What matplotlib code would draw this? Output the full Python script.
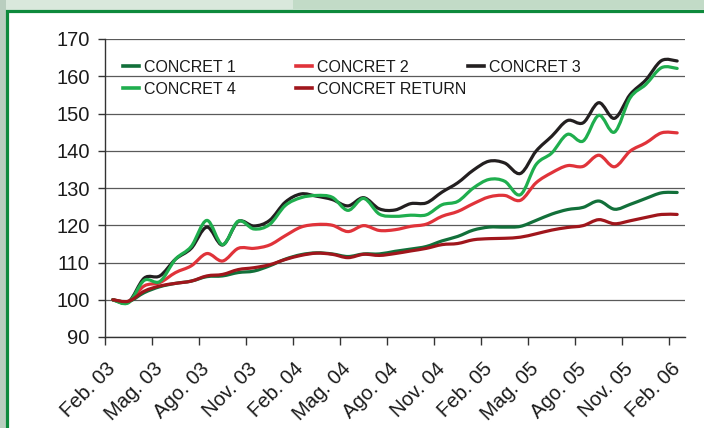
import numpy as np
import matplotlib
matplotlib.use('Agg')
import matplotlib.pyplot as plt
from matplotlib.path import Path
from matplotlib.patches import PathPatch, Rectangle
from matplotlib.lines import Line2D

# monthly index, Feb 03 .. Feb 06
months = list(range(37))
tick_labels = ['Feb. 03', 'Mag. 03', 'Ago. 03', 'Nov. 03', 'Feb. 04', 'Mag. 04', 'Ago. 04',
               'Nov. 04', 'Feb. 05', 'Mag. 05', 'Ago. 05', 'Nov. 05', 'Feb. 06']

concret_1 = [100, 99.5, 101.9, 103.5, 104.4, 105.0, 106.2, 106.4, 107.3, 107.7, 109.1, 110.9, 112.1,
             112.6, 112.3, 111.6, 112.3, 112.3, 113.0, 113.6, 114.3, 115.8, 117.0, 118.7, 119.5,
             119.5, 119.7, 121.3, 123.0, 124.2, 124.8, 126.5, 124.3, 125.6, 127.2, 128.7, 128.8]
concret_2 = [100, 99.6, 103.7, 104.6, 107.3, 109.1, 112.4, 110.4, 113.8, 113.8, 114.7, 117.2, 119.5,
             120.2, 120.0, 118.3, 119.9, 118.6, 118.8, 119.7, 120.3, 122.4, 123.7, 125.8, 127.6,
             128.0, 126.7, 131.4, 134.1, 136.0, 135.8, 138.8, 135.7, 139.9, 142.1, 144.8, 144.8]
concret_3 = [100, 99.4, 105.8, 106.4, 110.9, 113.8, 119.5, 114.7, 121.0, 119.8, 121.3, 126.2, 128.4,
             127.8, 126.9, 125.2, 127.4, 124.4, 124.1, 125.8, 126.0, 128.9, 131.4, 134.8, 137.2,
             136.7, 133.9, 139.9, 143.9, 148.1, 147.5, 152.9, 148.7, 155.1, 159.0, 164.2, 164.1]
concret_4 = [100, 99.2, 105.2, 104.9, 110.9, 114.3, 121.3, 114.8, 121.1, 119.0, 120.2, 125.3, 127.4,
             128.0, 127.5, 124.0, 127.2, 123.0, 122.4, 122.7, 122.8, 125.5, 126.4, 130.0, 132.3,
             131.8, 128.2, 136.3, 139.4, 144.4, 142.6, 149.5, 145.0, 154.2, 157.8, 162.3, 162.1]
concret_return = [100, 99.6, 102.3, 103.7, 104.4, 105.0, 106.4, 106.8, 108.1, 108.6, 109.4, 110.8, 111.9,
                  112.5, 112.2, 111.3, 112.2, 111.9, 112.4, 113.1, 113.8, 114.8, 115.1, 116.1, 116.4,
                  116.5, 116.8, 117.7, 118.7, 119.4, 119.9, 121.5, 120.4, 121.2, 122.1, 122.9, 122.9]

series_names = ['CONCRET 1', 'CONCRET 2', 'CONCRET 3', 'CONCRET 4', 'CONCRET RETURN']
series_values = [concret_1, concret_2, concret_3, concret_4, concret_return]
colors = ['#12703a', '#e0333a', '#231f20', '#1fae4e', '#a0161c']


def smooth_path(x, y):
    # excel-like smoothed line: bezier segments through the data points
    pts = np.column_stack([x, y]).astype(float)
    p = np.vstack([pts[0], pts, pts[-1]])
    verts = [pts[0]]
    codes = [Path.MOVETO]
    for k in range(1, len(p) - 2):
        c1 = p[k] + (p[k + 1] - p[k - 1]) / 6
        c2 = p[k + 1] - (p[k + 2] - p[k]) / 6
        verts += [c1, c2, p[k + 1]]
        codes += [Path.CURVE4] * 3
    return Path(verts, codes)


plt.rcParams['font.family'] = ['Liberation Sans', 'DejaVu Sans']

fig = plt.figure(figsize=(7.04, 4.28), dpi=100)
fig.patch.set_facecolor('#d9e8dc')

# background strips and green frame
fig.patches.append(Rectangle((0, 0), 6 / 704, 1, transform=fig.transFigure,
                             facecolor='#b9cebf', edgecolor='none', zorder=-3))
fig.patches.append(Rectangle((293 / 704, 1 - 9 / 428), 1, 9 / 428, transform=fig.transFigure,
                             facecolor='#c2dbc7', edgecolor='none', zorder=-3))
fig.patches.append(Rectangle((7.5 / 704, -0.1), 1.2, 1.1 - 10.5 / 428, transform=fig.transFigure,
                             facecolor='white', edgecolor='#0e8a3c', lw=2.3, zorder=-2))

ax = fig.add_axes([105 / 704, 1 - 337 / 428, 580 / 704, 298 / 428])
ax.set_facecolor('white')

for name, vals, c in zip(series_names, series_values, colors):
    ax.add_patch(PathPatch(smooth_path(months, vals), fill=False, edgecolor=c, lw=2.3,
                           capstyle='round', joinstyle='round', zorder=3))

ax.set_xlim(-0.5, 36.5)
ax.set_ylim(90, 170)
ax.set_yticks(range(90, 171, 10))
ax.set_xticks(np.arange(-0.5, 37, 3))
ax.set_xticks(months[::3], minor=True)
ax.set_xticklabels(tick_labels, minor=True, rotation=45, ha='right', va='center',
                   rotation_mode='anchor')
ax.tick_params(axis='x', which='major', length=6, width=1, color='#333333', labelbottom=False)
ax.tick_params(axis='x', which='minor', length=0, pad=21, labelsize=14.5, labelcolor='#1a1a1a')
ax.tick_params(axis='y', length=5, width=1, color='#333333', pad=6, labelsize=14.5,
               labelcolor='#1a1a1a')

ax.grid(axis='y', color='#5a5a5a', lw=0.9)
ax.set_axisbelow(True)
for s in ['top', 'right']:
    ax.spines[s].set_visible(False)
for s in ['left', 'bottom']:
    ax.spines[s].set_color('#333333')
    ax.spines[s].set_linewidth(1)

handles = [Line2D([], [], color=c, lw=2.6) for c in colors]
cols = [([0, 3], 123), ([1, 4], 296), ([2], 468)]
for n, (idx, xpx) in enumerate(cols):
    leg = ax.legend([handles[i] for i in idx], [series_names[i] for i in idx],
                    loc='upper left', bbox_to_anchor=(xpx / 704, 1 - 60 / 428),
                    bbox_transform=fig.transFigure, frameon=False, fontsize=11.5,
                    handlelength=1.0, handletextpad=0.3, borderpad=0, borderaxespad=0,
                    labelspacing=0.42)
    for t in leg.get_texts():
        t.set_color('#1a1a1a')
    if n < len(cols) - 1:
        ax.add_artist(leg)

fig.savefig('out.png', dpi=100, facecolor=fig.get_facecolor())
